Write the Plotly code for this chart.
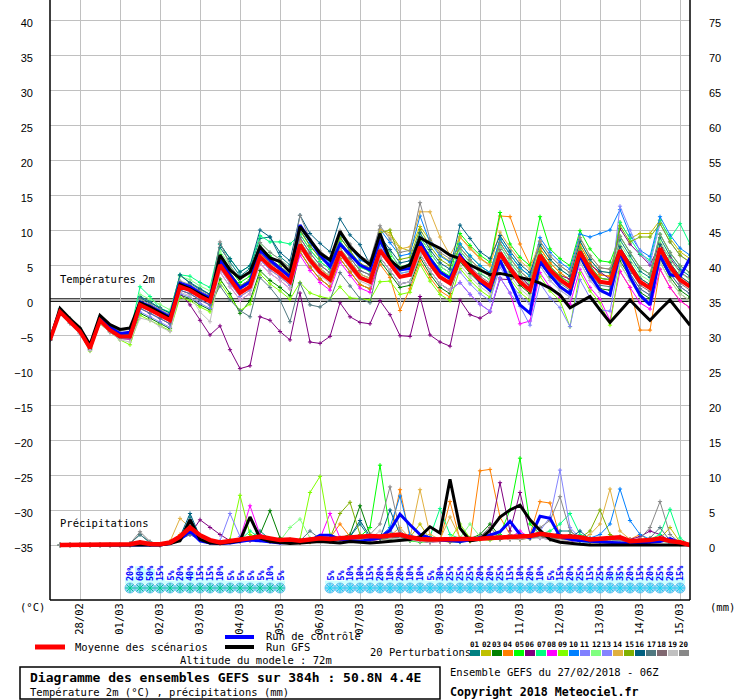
import plotly.graph_objects as go
import pandas as pd

# ---------------- data ----------------
steps_h = list(range(0, 385, 6))  # GEFS lead times (h) from 27/02/2018 06Z

temp_mean = [-5.7,-1.7,-3.1,-4.5,-6.9,-2.9,-4.3,-5.2,-5.2,
             -0.7,-1.4,-2.1,-2.9,1.9,1.4,0.5,-0.2,
             5.0,2.9,1.0,1.9,6.2,4.8,3.8,2.6,
             7.9,5.7,4.0,2.9,6.9,5.0,3.2,2.6,
             7.1,5.2,3.3,3.6,7.6,5.2,3.3,2.4,
             6.0,4.3,2.9,1.9,6.7,4.5,2.6,1.4,
             6.4,4.3,2.9,1.9,6.9,4.3,2.6,2.4,
             7.1,4.8,2.6,1.7,7.4,4.8,2.9,1.9]
temp_gfs = [-5.7,-1.2,-2.7,-4.0,-6.4,-2.2,-3.5,-4.2,-4.0,
            -0.4,-1.0,-1.8,-2.6,2.2,1.6,0.8,0.0,
            6.4,4.3,3.1,4.0,7.6,6.0,5.5,4.0,
            10.5,8.6,6.7,5.7,9.8,7.6,6.2,5.0,
            9.5,5.7,4.5,5.0,8.9,8.1,7.4,6.4,
            5.9,5.0,4.3,3.6,3.8,3.5,3.1,2.9,
            2.4,1.7,0.7,-1.1,-0.3,0.5,-1.4,-3.2,
            -1.6,0.0,-1.5,-2.9,-1.4,0.0,-1.8,-3.6]
temp_ctrl = [-5.7,-1.5,-2.9,-4.3,-6.6,-2.6,-3.9,-4.8,-4.6,
             -0.3,-0.9,-1.7,-2.4,2.4,1.9,1.0,0.3,
             5.7,3.6,1.7,2.6,7.1,5.7,4.5,3.3,
             10.7,8.6,6.4,4.8,8.0,6.5,5.0,4.3,
             8.6,5.7,4.3,4.5,8.3,5.9,4.0,3.1,
             6.4,4.5,2.6,1.4,5.7,2.6,-0.7,-1.9,
             5.5,3.6,1.9,0.9,6.4,3.6,1.4,0.7,
             6.9,3.3,0.7,-0.7,6.4,3.6,3.3,6.0]

t_p01 = [-5.7,-1.3,-2.8,-4.2,-6.6,-2.5,-4.0,-4.9,-4.8, 0.5,-0.2,-1.2,-1.8,3.5,2.5,1.6,0.8,
         7.5,5.5,3.4,4.5,8.8,9.0,6.2,5.0, 10.0,7.8,6.0,4.8,9.0,7.0,5.0,4.4,
         8.6,6.8,4.6,5.2,9.0,6.8,4.8,3.9, 7.0,5.4,3.8,2.9,7.8,5.4,3.6,2.4,
         6.9,4.8,3.3,2.5,7.4,4.9,3.1,2.9, 8.6,6.3,4.1,3.2,8.9,6.3,4.4,3.4]
t_p02 = [-5.7,-1.7,-3.0,-4.5,-6.8,-2.9,-4.2,-5.1,-5.0, -0.2,-0.9,-1.6,-2.4,2.4,1.9,1.0,0.3,
         6.0,3.9,2.0,2.9,7.2,5.8,4.8,3.6, 9.4,7.2,5.5,4.4,8.4,6.5,4.7,4.1,
         10.0,9.6,7.5,7.0,10.5,8.5,6.5,5.5, 8.0,6.3,4.9,3.9,8.7,6.5,4.6,3.4,
         7.4,5.3,3.9,2.9,7.9,5.3,3.6,3.4, 11.1,8.8,9.5,9.5,11.4,8.8,6.9,5.9]
t_p03 = [-5.7,-1.9,-3.3,-4.7,-7.1,-3.1,-4.5,-5.5,-5.6, -1.9,-2.6,-3.3,-4.1,0.7,0.2,-0.7,-1.4,
         3.0,0.9,-1.9,-0.1,4.2,2.8,1.8,0.6, 6.9,4.7,3.0,1.9,5.9,4.0,2.2,1.6,
         5.6,3.7,1.8,2.1,6.1,3.7,1.8,0.9, 5.5,3.8,2.4,1.4,6.2,4.0,2.1,0.9,
         5.4,3.3,1.9,0.9,5.9,3.3,1.6,1.4, 5.6,3.3,1.1,0.2,5.9,3.3,1.4,0.4]
t_p04 = [-5.7,-1.5,-2.9,-4.3,-6.7,-2.7,-4.1,-5.0,-5.0, -0.4,-1.1,-1.8,-2.6,2.2,1.7,0.8,0.1,
         4.5,2.4,0.5,1.4,5.7,4.3,3.3,2.1, 6.9,4.7,3.0,1.9,5.9,4.0,2.2,1.6,
         5.1,3.2,-1.5,1.6,5.6,3.2,1.3,0.4, 9.0,7.5,6.0,5.0,12.0,11.9,8.0,5.0,
         7.4,5.3,3.9,2.9,7.9,5.3,3.6,3.4, 4.1,1.8,-4.3,-4.3,4.4,1.8,-0.1,-1.1]
t_p05 = [-5.7,-1.7,-3.1,-4.4,-6.9,-2.9,-4.3,-5.2,-5.1, -0.2,-0.9,-1.6,-2.4,2.4,1.9,1.0,0.3,
         6.5,4.4,2.5,3.4,7.7,6.3,5.3,4.1, 8.4,6.2,4.5,3.4,7.4,5.5,3.7,3.1,
         8.1,6.2,4.3,4.6,8.6,6.2,4.3,3.4, 9.5,7.8,6.4,5.4,12.5,8.0,6.1,4.9,
         11.9,7.3,5.9,4.9,9.9,7.3,5.6,5.4, 9.1,6.8,4.6,3.7,9.4,6.8,4.9,3.9]
t_p06 = [-5.7,-1.8,-3.2,-4.6,-7.0,-3.0,-4.4,-5.3,-5.3, -0.5,-1.0,-2.0,-2.5,1.0,-0.7,-2.9,-5.0,
         -3.7,-7.1,-9.8,-9.4,-2.4,-2.9,-4.5,-5.7, 1.0,-6.0,-6.2,-5.2,-0.4,-2.4,-3.2,-3.4,
         -0.1,-2.1,-5.1,-5.2,0.5,-5.0,-6.0,-6.6, 0.0,-2.1,-2.6,-1.7,3.0,2.9,3.5,2.0,
         6.0,4.0,3.5,3.0,7.0,5.0,4.0,3.0, 10.2,8.0,6.5,5.0,8.0,6.0,4.0,3.0]
t_p07 = [-5.7,-1.3,-2.7,-4.1,-6.5,-2.5,-3.9,-4.8,-4.8, 1.9,0.5,-1.2,-1.7,3.6,3.4,2.5,1.8,
         8.0,5.9,4.0,4.9,9.2,8.3,8.3,8.0, 9.4,7.2,5.5,4.4,8.4,6.5,4.7,4.1,
         7.6,5.7,3.8,4.1,8.1,5.7,3.8,2.9, 8.0,6.3,4.9,3.9,8.7,6.5,4.6,3.4,
         6.9,4.8,3.4,2.4,7.4,4.8,3.1,2.9, 11.1,8.8,6.6,5.7,11.4,8.8,10.9,8.0]
t_p08 = [-5.7,-1.9,-3.3,-4.8,-7.2,-3.2,-4.6,-5.5,-5.6, -1.2,-1.9,-2.6,-3.4,1.4,0.9,0.0,-0.7,
         4.0,1.9,0.0,0.9,5.2,3.8,2.8,1.6, 6.4,4.2,2.5,1.4,5.4,3.5,1.7,1.1,
         6.1,4.2,2.3,2.6,6.6,4.2,2.3,1.4, 2.5,0.8,-0.6,-1.6,3.2,1.0,-3.4,-3.0,
         3.9,1.8,0.4,-0.6,4.4,1.8,0.1,-2.9, 4.1,1.8,-0.4,-1.3,4.4,1.8,-0.1,-1.1]
t_p09 = [-5.7,-2.0,-3.3,-4.8,-7.3,-3.4,-4.6,-5.7,-6.4, -2.2,-2.9,-3.6,-4.4,0.4,-0.1,-1.0,-1.7,
         2.5,0.4,-1.5,-0.6,3.7,2.3,1.3,0.1, 2.5,1.0,0.5,0.2,1.9,0.3,0.2,0.0,
         2.6,2.7,0.8,1.1,5.1,2.7,0.8,-0.1, 4.5,2.8,1.4,0.4,5.2,3.0,1.1,-0.1,
         3.4,1.3,-0.1,-3.8,3.9,1.3,-0.4,-3.6, 5.1,2.8,0.6,-0.3,5.4,2.8,0.9,-0.1]
t_p10 = [-5.7,-1.6,-3.0,-4.3,-6.7,-2.7,-4.2,-5.0,-5.0, -0.2,-0.9,-1.6,-2.4,2.4,1.9,1.0,0.3,
         6.0,3.9,2.0,2.9,7.2,5.8,4.8,3.6, 10.4,8.2,6.5,5.4,9.4,7.5,5.7,5.1,
         10.1,8.2,6.3,6.6,12.0,8.2,6.3,5.4, 8.0,6.3,4.9,3.9,8.7,6.5,4.6,3.4,
         8.9,6.8,5.4,4.4,9.4,9.0,9.5,10.0, 12.9,9.3,7.1,6.2,11.9,9.3,7.4,6.4]
t_p11 = [-5.7,-2.0,-3.3,-4.8,-7.1,-3.1,-4.5,-5.5,-5.5, -1.7,-2.4,-3.1,-3.9,0.9,0.4,-0.5,-1.2,
         4.5,2.4,0.5,1.4,5.7,4.3,3.3,2.1, 8.4,6.2,4.5,3.4,7.4,5.5,3.7,3.1,
         6.1,4.2,2.3,2.6,6.6,4.2,2.3,1.4, 2.5,0.8,-0.6,-1.6,3.2,1.0,-0.9,-3.6,
         2.4,0.3,-1.1,-3.8,2.9,0.3,-1.4,-1.6, 6.1,3.8,1.6,0.7,6.4,3.8,1.9,0.9]
t_p12 = [-5.7,-1.6,-3.0,-4.4,-6.8,-2.8,-4.2,-5.1,-5.1, 0.8,0.1,-0.6,-1.4,3.4,2.9,2.0,1.3,
         7.0,4.9,3.0,3.9,8.2,6.8,5.8,4.6, 8.9,6.7,5.0,3.9,7.9,6.0,4.2,3.6,
         8.6,6.7,4.8,5.1,9.1,6.7,4.8,3.9, 7.0,5.3,3.9,2.9,7.7,5.5,3.6,2.4,
         7.9,5.8,4.4,3.4,8.4,5.8,4.1,3.9, 8.1,5.8,3.6,2.7,8.4,5.8,3.9,2.9]
t_p13 = [-5.7,-1.8,-3.1,-4.6,-6.9,-3.0,-4.3,-5.3,-5.2, -1.2,-1.9,-2.6,-3.4,1.4,0.9,0.0,-0.7,
         5.5,3.4,1.5,2.4,6.7,5.3,4.3,3.1, 8.9,6.7,5.0,3.9,7.9,6.0,4.2,3.6,
         7.6,5.7,3.8,4.1,8.1,5.7,3.8,2.9, 4.0,2.3,0.9,-0.1,4.7,2.5,0.6,-0.6,
         4.9,2.8,1.4,0.4,5.4,2.8,1.1,0.9, 13.4,10.0,7.0,5.2,10.9,8.3,6.4,5.4]
t_p14 = [-5.7,-1.6,-3.0,-4.4,-6.8,-2.8,-4.2,-5.1,-5.1, -0.7,-1.4,-2.1,-2.9,1.9,1.4,0.5,-0.2,
         5.5,3.4,1.5,2.4,6.7,5.3,4.3,3.1, 8.4,6.2,4.5,3.4,7.4,5.5,3.7,3.1,
         10.1,9.2,7.3,7.6,12.6,12.6,9.0,6.4, 9.0,7.3,5.9,4.9,9.7,7.5,5.6,4.4,
         8.4,6.3,4.9,3.9,8.9,6.3,4.6,4.4, 7.6,5.3,3.1,2.2,7.9,5.3,3.4,2.4]
t_p15 = [-5.7,-1.8,-3.2,-4.6,-7.0,-3.0,-4.4,-5.3,-5.3, -0.4,-1.1,-1.8,-2.6,2.2,1.7,0.8,0.1,
         6.0,3.9,2.0,2.9,7.2,5.8,4.8,3.6, 9.9,7.7,6.0,4.9,8.9,7.0,5.2,4.6,
         9.6,10.0,5.8,6.1,10.1,7.7,5.8,4.9, 7.5,5.8,4.4,3.4,8.2,6.0,4.1,2.9,
         6.9,4.8,3.4,2.4,7.4,4.8,3.1,2.9, 10.6,8.3,9.0,9.0,10.9,8.3,6.4,5.4]
t_p16 = [-5.7,-1.4,-2.8,-4.2,-6.6,-2.6,-4.0,-4.9,-4.9, 0.3,-0.4,-1.1,-1.9,3.6,2.4,1.5,0.8,
         8.0,5.9,4.0,4.9,10.0,9.0,6.8,5.6, 12.1,9.5,8.1,6.9,11.6,9.3,7.9,5.1,
         9.1,7.2,5.3,5.6,9.6,7.2,5.3,4.4, 10.7,8.8,6.9,5.9,9.2,7.0,5.1,3.9,
         7.9,5.8,4.4,3.4,8.4,5.8,4.1,3.9, 7.6,5.3,3.1,2.2,7.9,5.3,3.4,2.4]
t_p17 = [-5.7,-1.9,-3.3,-4.7,-7.1,-3.1,-4.5,-5.4,-5.4, -1.2,-1.9,-2.6,-3.4,1.4,0.9,0.0,-0.7,
         2.0,0.0,-1.5,-2.4,3.2,1.8,0.0,-3.1, 2.4,-0.7,-1.0,0.0,3.9,2.0,0.2,-0.4,
         6.1,4.2,2.3,2.6,6.6,4.2,2.3,1.4, 6.0,4.3,2.9,1.9,6.7,4.5,2.6,1.4,
         5.9,3.8,2.4,1.4,6.4,3.8,2.1,1.9, 6.1,3.8,1.6,0.7,6.4,3.8,1.9,0.9]
t_p18 = [-5.7,-1.7,-3.1,-4.5,-6.9,-2.9,-4.3,-5.2,-5.2, -0.7,-1.4,-2.1,-2.9,1.9,1.4,0.5,-0.2,
         5.5,3.4,1.5,2.4,6.7,5.3,4.3,3.1, 8.9,6.7,5.0,3.9,7.9,6.0,4.2,3.6,
         7.1,5.2,3.3,3.6,7.6,5.2,3.3,2.4, 6.5,4.8,3.4,2.4,7.2,5.0,3.1,1.9,
         6.4,4.3,2.9,1.9,6.9,4.3,2.6,2.4, 6.6,4.3,2.1,1.2,6.9,4.3,2.4,1.4]
t_p19 = [-5.7,-2.0,-3.3,-4.8,-7.2,-3.4,-4.6,-5.7,-6.0, -2.6,-2.9,-3.8,-4.5,1.1,0.6,-1.7,-3.1,
         4.0,1.9,0.0,0.9,5.2,3.8,2.8,1.6, 7.4,5.2,3.5,2.4,6.4,4.5,2.7,2.1,
         6.1,4.2,2.3,2.6,6.6,4.2,2.3,1.4, 5.0,3.3,1.9,0.9,5.7,3.5,1.6,0.4,
         4.9,2.8,1.4,0.4,5.4,2.8,1.1,0.9, 5.1,2.8,0.6,-0.3,5.4,2.8,0.9,-0.1]
t_p20 = [-5.7,-1.3,-2.6,-4.0,-6.4,-2.3,-3.8,-4.4,-4.2, 0.1,-0.6,-1.3,-2.1,2.7,2.2,1.3,0.6,
         8.3,4.9,3.0,3.9,8.2,6.8,5.8,4.6, 12.1,8.7,7.0,5.9,9.9,8.0,6.2,5.6,
         10.6,8.7,6.8,7.1,13.9,8.7,6.8,5.9, 7.5,5.8,4.4,3.4,8.2,6.0,4.1,2.9,
         8.4,6.3,4.9,3.9,8.9,6.3,4.6,4.4, 9.1,6.8,4.6,3.7,9.4,6.8,4.9,3.9]

# precipitation (mm / 6h), from +6h to +384h
prec_mean = [0,0,0,0,0,0,0, 0.1,0.4,0.15,0.1,0.35,1.2,2.5,1.4,
             0.7,0.35,0.6,0.8,1.05,1.2,0.95,0.7, 0.8,0.6,0.8,0.95,0.85,0.95,1.05,1.2,
             1.3,1.2,1.3,1.5,1.1,0.85,0.8,0.8, 0.85,0.8,0.8,0.9,1.0,1.05,1.1,1.2,
             1.3,1.6,1.4,1.2,1.2,1.1,0.8,0.9, 1.15,1.1,0.55,0.55,0.7,0.95,0.55,0.4, 0.0]
prec_gfs = [0,0,0,0,0,0,0, 0.0,0.1,0.1,0.0,0.2,0.6,3.6,0.8,
            0.3,0.2,0.4,0.6,4.0,1.0,0.5,0.3, 0.2,0.3,0.4,0.5,0.4,0.3,0.5,0.4,
            0.3,0.4,0.5,0.6,0.8,1.2,2.6,1.7, 9.4,2.4,0.6,0.8,2.1,4.0,5.0,5.7,
            3.6,2.1,0.8,0.4,0.2,0.1,0.0,0.0, 0.0,0.0,0.0,0.0,0.0,0.0,0.0,0.0, 0.0]
prec_ctrl = [0,0,0,0,0,0,0, 0.0,0.1,0.1,0.0,0.2,0.8,2.0,0.6,
             0.3,0.2,0.3,0.5,0.7,0.6,0.4,0.3, 0.4,0.5,0.6,1.4,1.4,0.8,0.6,0.5,
             0.8,1.0,2.1,4.4,2.9,1.5,1.0,0.7, 0.6,0.5,0.7,1.0,1.4,1.9,3.4,1.5,
             1.0,4.1,3.8,1.2,0.8,0.6,0.5,0.4, 0.3,0.2,0.2,0.3,0.4,0.5,0.9,0.3, 0.0]

p_p01 = [0,0,0,0,0,0,0, 0.2,1.5,0.3,0.1,0.4,1.0,4.0,1.2, 0.5,0.2,0.6,0.8,1.0,2.0,0.8,0.5,
         0.6,0.4,0.8,1.0,0.6,0.8,1.2,3.0, 1.0,0.8,1.2,1.5,0.8,0.6,0.5,0.8, 0.6,0.5,0.7,0.9,1.0,1.2,0.9,1.0,
         1.2,1.8,1.0,2.0,2.0,0.9,0.6,0.5, 0.9,1.0,0.4,0.3,0.5,0.8,0.4,0.2, 0.0]
p_p02 = [0,0,0,0,0,0,0, 0.1,0.3,0.2,0.0,0.2,0.8,3.0,1.0, 0.4,0.3,0.5,0.6,0.8,0.9,0.6,0.4,
         0.5,0.6,0.4,0.7,0.5,0.9,1.0,0.8, 0.9,1.2,1.0,1.3,1.1,3.0,0.8,0.6, 0.4,0.6,0.5,0.8,1.0,0.8,1.2,0.9,
         1.0,1.5,1.2,1.0,0.8,1.0,0.6,0.9, 1.2,1.0,0.5,0.4,0.6,0.9,2.5,0.4, 0.0]
p_p03 = [0,0,0,0,0,0,0, 0.0,0.2,0.1,0.1,0.3,0.9,2.0,0.8, 0.3,0.2,0.6,0.9,1.2,1.5,4.9,1.0,
         0.7,0.5,0.8,1.2,0.9,1.0,1.5,5.6, 1.5,0.9,1.1,1.0,0.7,0.5,0.6,0.5, 0.7,0.6,0.9,1.5,3.0,1.2,0.8,1.0,
         0.9,1.2,1.0,0.8,1.5,1.0,0.5,0.7, 1.0,0.8,0.3,0.4,0.9,1.0,0.3,0.2, 0.0]
p_p04 = [0,0,0,0,0,0,0, 0.1,0.4,0.2,0.1,0.5,1.5,2.5,1.0, 0.4,0.2,0.4,0.6,0.9,0.8,0.6,0.5,
         0.4,0.3,0.6,0.8,1.0,3.0,1.2,0.9, 0.8,1.0,1.2,7.9,1.0,0.6,0.4,0.5, 6.2,0.8,0.6,10.6,10.8,4.0,1.5,1.0,
         1.5,6.2,6.0,1.2,0.8,0.6,0.5,0.8, 0.9,1.2,0.8,1.5,0.6,0.9,0.4,0.3, 0.0]
p_p05 = [0,0,0,0,0,0,0, 0.0,0.3,0.2,0.1,0.3,1.2,2.0,0.9, 0.5,0.3,0.5,0.8,1.0,0.9,0.7,0.6,
         0.8,0.6,0.5,0.7,0.8,0.9,1.0,1.2, 2.5,11.4,2.0,1.0,0.6,0.4,0.5,0.6, 0.5,0.4,0.6,0.8,1.0,1.5,5.0,12.4,
         3.0,1.5,0.8,0.6,0.9,0.5,0.4,0.6, 0.8,0.5,0.3,0.2,0.4,0.6,0.3,0.1, 0.0]
p_p06 = [0,0,0,0,0,0,0, 0.0,0.2,0.1,0.0,0.2,0.8,1.5,3.6, 2.5,1.5,0.6,0.5,0.6,0.7,0.5,0.4,
         0.3,0.4,0.5,0.6,0.5,0.6,0.8,0.7, 0.6,0.8,0.9,1.0,0.7,0.5,0.4,0.6, 0.5,0.6,0.8,1.0,1.5,8.9,2.0,7.5,
         1.5,1.0,0.8,0.6,0.5,0.7,0.6,0.8, 0.9,0.6,0.8,1.2,2.0,1.5,0.6,0.3, 0.0]
p_p07 = [0,0,0,0,0,0,0, 0.1,0.3,0.2,0.0,0.4,1.0,3.0,1.2, 0.6,0.3,0.5,0.7,2.0,1.0,0.8,0.6,
         0.5,0.7,0.6,0.8,0.9,0.7,1.0,0.9, 1.0,0.9,1.2,1.5,1.0,0.8,1.2,5.2, 1.5,0.9,1.0,1.2,0.8,1.0,1.3,1.5,
         1.2,1.5,2.0,3.0,4.5,1.5,1.0,0.8, 1.0,1.2,0.6,0.5,0.8,1.5,5.1,1.0, 0.0]
p_p08 = [0,0,0,0,0,0,0, 0.0,0.2,0.1,0.0,0.3,0.9,2.5,1.0, 0.4,0.2,0.5,0.9,5.6,1.5,0.7,0.5,
         0.4,0.6,0.7,0.9,4.5,1.0,0.8,0.7, 0.8,1.0,0.9,1.2,0.8,0.6,0.4,0.5, 0.6,0.5,0.8,1.0,0.9,1.2,1.0,2.0,
         1.0,1.2,0.9,0.7,0.6,0.8,0.5,0.6, 0.7,0.5,0.4,0.3,0.6,0.8,0.3,0.2, 0.0]
p_p09 = [0,0,0,0,0,0,0, 0.0,0.3,0.2,0.1,0.2,0.7,1.8,0.9, 0.3,0.4,0.8,7.1,1.5,0.8,0.6,0.5,
         0.6,0.8,7.5,9.8,1.5,0.9,0.8,1.0, 0.9,0.8,1.0,1.1,0.7,0.6,0.5,0.7, 0.8,3.0,1.0,0.8,0.7,0.9,1.0,0.8,
         1.0,1.3,0.9,0.8,0.6,0.9,0.7,0.5, 0.8,0.6,0.5,0.3,0.5,0.7,0.4,0.2, 0.0]
p_p10 = [0,0,0,0,0,0,0, 0.1,0.2,0.1,0.0,0.3,0.9,2.2,1.0, 0.5,0.3,0.6,0.7,0.9,1.0,0.7,0.5,
         0.6,0.5,0.7,0.9,1.0,0.8,1.1,0.9, 1.0,1.2,2.5,7.0,1.5,0.8,0.6,0.7, 0.6,0.5,0.7,0.9,1.1,1.0,1.2,0.9,
         1.1,1.4,1.0,0.9,0.7,0.8,1.0,1.5, 3.0,8.0,3.5,1.5,0.8,1.0,0.5,0.3, 0.0]
p_p11 = [0,0,0,0,0,0,0, 0.1,0.2,0.1,0.1,0.3,1.0,3.5,1.0, 0.5,0.6,4.5,1.2,0.8,0.9,0.6,0.5,
         0.5,0.4,0.6,0.8,0.7,0.9,1.0,0.8, 0.7,0.9,2.0,1.2,0.8,0.6,0.5,0.6, 0.7,0.6,0.8,1.0,0.9,1.2,0.8,1.0,
         1.2,1.0,0.9,0.8,0.7,0.9,0.6,0.5, 0.9,0.7,0.4,0.3,0.5,0.6,0.4,0.2, 0.0]
p_p12 = [0,0,0,0,0,0,0, 0.0,0.2,0.1,0.0,0.2,0.8,2.0,0.8, 0.4,0.3,0.5,0.7,0.8,1.0,0.8,0.6,
         2.5,3.7,1.0,0.8,0.7,0.9,1.0,0.8, 0.9,1.0,0.8,1.0,0.7,0.5,0.6,0.8, 0.7,1.0,3.0,1.2,0.9,1.1,1.0,0.9,
         1.0,1.2,1.5,1.0,0.8,0.9,0.7,0.6, 0.8,0.6,0.5,0.4,0.6,0.8,0.5,0.2, 0.0]
p_p13 = [0,0,0,0,0,0,0, 0.0,0.2,0.1,0.0,0.2,0.7,1.6,0.7, 0.3,0.2,0.6,0.8,0.9,0.8,0.6,0.4,
         0.5,0.6,0.7,0.8,0.9,1.0,0.9,0.7, 0.8,0.9,1.0,1.2,0.9,0.6,0.5,0.6, 0.5,0.7,0.8,1.0,1.2,0.9,1.1,1.0,
         1.2,2.0,4.0,10.7,2.5,1.0,0.7,0.6, 0.8,0.7,0.5,0.4,0.6,0.9,0.4,0.2, 0.0]
p_p14 = [0,0,0,0,0,0,0, 0.1,0.3,0.2,0.1,0.5,3.8,2.5,1.0, 0.4,0.3,0.5,0.6,0.8,0.9,0.7,0.5,
         0.6,0.5,0.7,0.9,0.8,1.0,0.9,0.8, 0.9,1.1,1.3,2.5,1.0,7.9,1.5,0.8, 4.0,1.0,0.8,0.9,1.1,1.0,0.9,0.8,
         1.0,1.2,1.0,0.9,0.7,0.8,1.5,3.0, 8.0,2.0,0.8,0.5,0.7,0.9,0.5,0.3, 0.0]
p_p15 = [0,0,0,0,0,0,0, 0.0,0.2,0.1,0.0,0.3,0.9,2.0,0.8, 0.4,0.3,0.5,0.7,0.9,0.8,0.6,0.5,
         0.6,0.5,0.8,0.9,1.0,4.5,6.1,1.5, 1.0,0.9,1.1,1.2,0.8,0.6,0.5,0.7, 0.6,0.7,0.9,1.1,1.0,1.2,0.9,1.0,
         1.1,1.3,1.0,0.9,0.8,1.0,2.0,5.0, 1.5,0.8,0.5,0.4,0.6,0.8,0.4,0.2, 0.0]
p_p16 = [0,0,0,0,0,0,0, 0.1,0.3,0.2,0.0,0.4,1.2,4.5,1.2, 0.5,0.3,0.6,0.8,1.0,0.9,0.7,0.5,
         0.6,0.7,0.6,0.8,0.9,1.0,1.2,3.5, 1.2,1.0,5.0,1.5,0.8,0.6,0.5,0.7, 0.6,0.5,0.8,1.0,0.9,1.1,1.0,0.9,
         1.0,1.2,1.0,1.5,1.0,2.0,0.8,0.6, 0.8,0.6,0.5,0.3,0.5,0.7,0.4,0.2, 0.0]
p_p17 = [0,0,0,0,0,0,0, 0.2,1.5,0.4,0.1,0.3,0.8,1.5,0.7, 0.3,0.2,0.4,0.6,0.8,0.7,0.5,0.4,
         0.5,0.6,2.0,0.9,0.7,0.8,0.9,0.7, 0.8,0.9,1.0,1.1,0.7,0.5,0.4,0.6, 0.5,0.6,0.7,0.9,1.0,0.8,1.1,0.9,
         1.0,1.2,0.9,0.8,0.7,0.8,0.6,0.5, 0.7,0.6,0.4,0.5,1.0,2.5,0.6,0.2, 0.0]
p_p18 = [0,0,0,0,0,0,0, 0.0,0.3,0.1,0.0,0.3,1.0,3.5,1.0, 0.4,0.3,0.5,0.6,0.8,0.9,0.6,0.5,
         0.5,0.6,0.7,0.8,0.9,0.8,1.0,0.9, 0.8,1.0,0.9,1.1,0.8,0.6,0.5,0.6, 0.7,0.6,0.8,1.2,2.5,1.0,0.9,0.8,
         1.0,1.1,1.0,0.8,0.7,0.9,0.6,0.5, 0.8,0.6,0.4,0.3,0.5,0.7,0.4,0.2, 0.0]
p_p19 = [0,0,0,0,0,0,0, 0.0,0.2,0.1,0.0,0.2,0.9,2.5,0.8, 0.3,0.2,0.4,0.6,0.7,0.8,0.6,0.4,
         0.5,0.4,0.6,0.7,0.8,0.9,0.8,0.7, 0.9,2.0,1.0,0.9,0.7,0.5,0.4,0.5, 0.5,0.6,0.7,0.8,0.9,1.0,0.8,0.9,
         0.9,1.0,0.8,0.7,0.6,0.8,0.5,0.4, 0.6,0.5,0.3,0.2,0.4,0.6,0.3,0.1, 0.0]
p_p20 = [0,0,0,0,0,0,0, 0.2,1.9,0.5,0.1,0.4,1.2,3.0,1.0, 0.5,0.3,0.6,0.8,0.9,1.0,0.7,0.5,
         0.6,0.5,0.8,0.9,0.8,1.0,0.9,0.8, 1.5,3.0,8.3,2.0,1.0,0.7,0.5,0.6, 0.5,0.6,0.8,1.0,1.2,1.0,1.5,1.2,
         1.5,2.5,3.5,6.9,2.0,1.0,0.8,0.6, 0.8,0.7,0.5,0.9,2.5,6.2,1.5,0.3, 0.0]

member_names = ["01","02","03","04","05","06","07","08","09","10",
                "11","12","13","14","15","16","17","18","19","20"]
member_colors = ["#008080","#c0c000","#008000","#ff8000","#00ff00","#800080","#00ff80","#ff00ff",
                 "#80ff00","#0080ff","#8080ff","#80ff80","#8484ff","#e0b040","#80b000","#006080",
                 "#507880","#806870","#c0c0c0","#888888"]
member_temps = [t_p01,t_p02,t_p03,t_p04,t_p05,t_p06,t_p07,t_p08,t_p09,t_p10,
                t_p11,t_p12,t_p13,t_p14,t_p15,t_p16,t_p17,t_p18,t_p19,t_p20]
member_precs = [p_p01,p_p02,p_p03,p_p04,p_p05,p_p06,p_p07,p_p08,p_p09,p_p10,
                p_p11,p_p12,p_p13,p_p14,p_p15,p_p16,p_p17,p_p18,p_p19,p_p20]

# snow probability (%) per 6h step
snow_steps1 = [8,9,10,11,12,13,14,15,16,17,18,19,20,21,22,23]
snow_pct1 = [20,60,50,15,5,20,40,15,15,10,5,5,5,5,10,5]
snow_steps2 = list(range(28, 64))
snow_pct2 = [5,5,10,10,15,20,10,20,10,10,5,30,25,25,25,20,20,25,15,10,
             20,10,5,15,20,25,15,25,30,35,20,15,20,25,20,15]

date_ticks = ["2018-02-28","2018-03-01","2018-03-02","2018-03-03","2018-03-04","2018-03-05",
              "2018-03-06","2018-03-07","2018-03-08","2018-03-09","2018-03-10","2018-03-11",
              "2018-03-12","2018-03-13","2018-03-14","2018-03-15"]
date_labels = ["28/02","01/03","02/03","03/03","04/03","05/03","06/03","07/03",
               "08/03","09/03","10/03","11/03","12/03","13/03","14/03","15/03"]
temp_ticks = list(range(-35, 41, 5))
prec_ticks = list(range(0, 76, 5))

# ---------------- figure ----------------
run_start = pd.Timestamp("2018-02-27 06:00")
times = [run_start + pd.Timedelta(hours=h) for h in steps_h]
ptimes = times[1:]

W, H = 740, 700
ML, MR, MT, MB = 50, 50, 0, 100
PW, PH = W - ML - MR, H - MT - MB
Y_TOP = 300 / 7.0           # temperature at plot top (0 px)
Y_BOT = -300 / 7.0          # temperature at plot bottom (600 px)
PREC_OFF = 35               # precipitation axis = temperature + 35


def xp(px):
    return (px - ML) / PW


def yp(py):
    return (PH - py) / PH


def yv(py):
    return (300 - py) / 7.0


MONO = "DejaVu Sans Mono"
fig = go.Figure()

# snow probability bars and snowflakes
six_h_ms = 6 * 3600 * 1000
for steps, pcts in ((snow_steps1, snow_pct1), (snow_steps2, snow_pct2)):
    xs = [times[s] for s in steps]
    fig.add_trace(go.Bar(x=xs, y=[(2 + 0.26 * p) / 7.0 for p in pcts], base=yv(584),
                         width=six_h_ms, marker=dict(color="#ccffff", line=dict(width=0)),
                         hoverinfo="skip"))
    fig.add_trace(go.Scatter(x=xs, y=[yv(588)] * len(xs), mode="markers",
                             marker=dict(symbol="circle", size=10, color="#98d8f6",
                                         line=dict(width=1, color="#6cc0f0")),
                             hoverinfo="skip"))
    fig.add_trace(go.Scatter(x=xs, y=[yv(588)] * len(xs), mode="markers",
                             marker=dict(symbol="asterisk-open", size=8,
                                         line=dict(width=1, color="#4aa6ea")),
                             hoverinfo="skip"))

# perturbations
for name, col, tv in zip(member_names, member_colors, member_temps):
    fig.add_trace(go.Scatter(x=times, y=tv, mode="lines+markers", name=name,
                             line=dict(color=col, width=1),
                             marker=dict(symbol="cross-thin", size=3, line=dict(width=1, color=col))))
for name, col, pv in zip(member_names, member_colors, member_precs):
    fig.add_trace(go.Scatter(x=ptimes, y=pv, yaxis="y2", mode="lines+markers", name=name,
                             line=dict(color=col, width=1),
                             marker=dict(symbol="cross-thin", size=3, line=dict(width=1, color=col))))

# control, GFS, mean
fig.add_trace(go.Scatter(x=times, y=temp_ctrl, mode="lines", line=dict(color="#0000ff", width=3)))
fig.add_trace(go.Scatter(x=ptimes, y=prec_ctrl, yaxis="y2", mode="lines", line=dict(color="#0000ff", width=3)))
fig.add_trace(go.Scatter(x=times, y=temp_gfs, mode="lines", line=dict(color="#000000", width=3)))
fig.add_trace(go.Scatter(x=ptimes, y=prec_gfs, yaxis="y2", mode="lines", line=dict(color="#000000", width=3)))
fig.add_trace(go.Scatter(x=times, y=temp_mean, mode="lines", line=dict(color="#ff0000", width=4)))
fig.add_trace(go.Scatter(x=ptimes, y=prec_mean, yaxis="y2", mode="lines", line=dict(color="#ff0000", width=4.5)))

shapes = []
# zero double line
for v in (0.17, -0.2):
    shapes.append(dict(type="line", xref="paper", yref="y", x0=0, x1=1, y0=v, y1=v,
                       line=dict(color="black", width=1), layer="below"))
# frame
shapes.append(dict(type="line", xref="paper", yref="paper", x0=0, x1=0, y0=0, y1=1,
                   line=dict(color="black", width=1.5)))
shapes.append(dict(type="line", xref="paper", yref="paper", x0=1, x1=1, y0=0, y1=1,
                   line=dict(color="black", width=1.5)))
shapes.append(dict(type="line", xref="paper", yref="paper", x0=0, x1=1, y0=0, y1=0,
                   line=dict(color="black", width=1.5)))
# legend samples
shapes.append(dict(type="line", xref="paper", yref="paper", x0=xp(35), x1=xp(65),
                   y0=yp(647), y1=yp(647), line=dict(color="#ff0000", width=5)))
shapes.append(dict(type="line", xref="paper", yref="paper", x0=xp(225), x1=xp(254),
                   y0=yp(637), y1=yp(637), line=dict(color="#0000ff", width=4)))
shapes.append(dict(type="line", xref="paper", yref="paper", x0=xp(225), x1=xp(254),
                   y0=yp(647), y1=yp(647), line=dict(color="#000000", width=4)))
# title box
shapes.append(dict(type="rect", xref="paper", yref="paper", x0=xp(20), x1=xp(440),
                   y0=yp(699), y1=yp(667), line=dict(color="black", width=1.5)))

annotations = []


def label(x, y, text, size=10, bold=False, color="black", xanchor="left"):
    annotations.append(dict(x=xp(x), y=yp(y), xref="paper", yref="paper", text=text,
                            showarrow=False, xanchor=xanchor, yanchor="middle",
                            font=dict(family=MONO, size=size, color=color,
                                      weight="bold" if bold else "normal")))


label(58, 279, "Températures 2m", 10.5)
label(58, 523, "Précipitations", 10.5)
label(18, 607, "(°C)", 10.5)
label(708, 607, "(mm)", 10.5)
label(73, 647, "Moyenne des scénarios", 10.5)
label(264, 636, "Run de contrôle", 10.5)
label(264, 647, "Run GFS", 10.5)
label(178, 660, "Altitude du modele : 72m", 10.5)
label(368, 652, "20 Perturbations", 10.5)
label(28, 677, "Diagramme des ensembles GEFS sur 384h : 50.8N 4.4E", 13, bold=True)
label(28, 692, "Température 2m (°C) , précipitations (mm)", 10.5)
label(448, 672, "Ensemble GEFS du 27/02/2018 - 06Z", 10.5)
label(448, 692, "Copyright 2018 Meteociel.fr", 11.6, bold=True)

for k, (name, col) in enumerate(zip(member_names, member_colors)):
    x0 = 470 + 11 * k
    shapes.append(dict(type="rect", xref="paper", yref="paper", x0=xp(x0), x1=xp(x0 + 10),
                       y0=yp(656), y1=yp(650), fillcolor=col, line=dict(width=0)))
    label(x0 + 5, 644, name, 7.5, bold=True, xanchor="center")

# snow percentage labels
for steps, pcts in ((snow_steps1, snow_pct1), (snow_steps2, snow_pct2)):
    for s, p in zip(steps, pcts):
        annotations.append(dict(x=times[s], y=yv(582), xref="x", yref="y", text=f"{p}%",
                                showarrow=False, textangle=-90, xanchor="center", yanchor="bottom",
                                borderpad=0,
                                font=dict(family=MONO, size=8.5, color="#0000ff", weight="bold")))

fig.update_layout(
    width=W, height=H, margin=dict(l=ML, r=MR, t=MT, b=MB),
    paper_bgcolor="white", plot_bgcolor="white", showlegend=False,
    barmode="overlay", hovermode=False,
    shapes=shapes, annotations=annotations,
    xaxis=dict(type="date", range=[times[0], times[-1]], tickvals=date_ticks, ticktext=date_labels,
               tickangle=-90, showgrid=True, gridcolor="#c0c0c0", gridwidth=1, zeroline=False,
               showline=False, ticks="", tickfont=dict(family=MONO, size=10.5, color="black")),
    yaxis=dict(range=[Y_BOT, Y_TOP], tickvals=temp_ticks, showgrid=True, gridcolor="#c0c0c0",
               gridwidth=1, zeroline=False, showline=False, ticks="", ticklabelstandoff=16,
               ticklabelshift=3,
               tickfont=dict(family="Liberation Sans", size=11, color="black")),
    yaxis2=dict(range=[Y_BOT + PREC_OFF, Y_TOP + PREC_OFF], tickvals=prec_ticks, overlaying="y",
                side="right", showgrid=False, zeroline=False, showline=False, ticks="",
                ticklabelstandoff=18, ticklabelshift=3,
                tickfont=dict(family="Liberation Sans", size=11, color="black")),
)

# the page's default 8px body margin would shift the whole picture; remove it
fig.write_html("out.html", config={"displayModeBar": False},
               post_script="document.body.style.margin='0';")
